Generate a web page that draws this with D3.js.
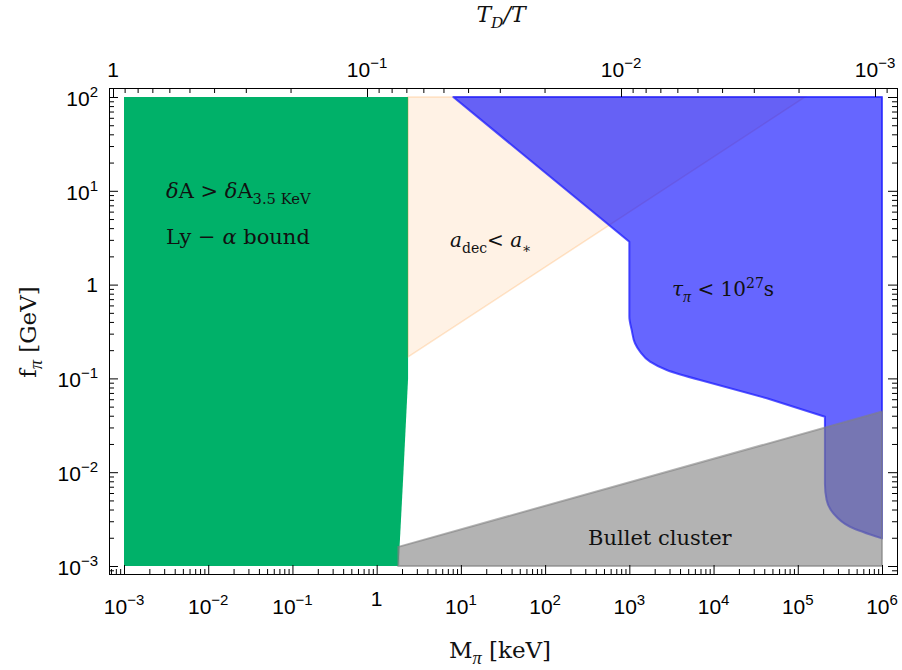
<!DOCTYPE html>
<html><head><meta charset="utf-8">
<script src="https://cdn.jsdelivr.net/npm/d3@7"></script>
<style>body{margin:0;background:#fff}</style>
</head><body>
<svg id="c" width="902" height="670"></svg>
<script>
// ---- data (M_pi in keV, f_pi in GeV) ----
const xTickExps = [-3,-2,-1,0,1,2,3,4,5,6];
const yTickExps = [-3,-2,-1,0,1,2];
const topTickExps = [0,-1,-2,-3];

const lyAlphaRegion = [[1e-3,100],[2.36,100],[2.36,0.1],[2.08,0.01],[1.82,1e-3],[1e-3,1e-3]];
const decayRegion = [[2.36,100],[1.22e5,100],[2.36,0.17]];
// lifetime bound boundary, split into pieces
const lifetimeTop = [[1e6,0.00197],[1e6,100],[8.13,100],[1.0e3,2.87]];
const lifetimeKnee = [[1.0e3,2.87],[1.0e3,0.455],[1.067e3,0.328],[1.167e3,0.237],[1.34e3,0.193],
  [1.76e3,0.151],[2.78e3,0.123],[6.9e3,0.0962]];
const lifetimeSlope = [[6.9e3,0.0962],[4.28e4,0.0614],[2.1e5,0.039]];
const lifetimeTail = [[2.1e5,0.039],[2.1e5,0.0076],[2.2e5,0.00506],[2.64e5,0.00365],
  [4.17e5,0.00262],[1e6,0.00197]];
const bulletRegion = [[1.81,0.0016],[1e6,0.0442],[1e6,1e-3],[1.81,1e-3]];

// ---- layout ----
const svg = d3.select('#c');
const frame = {l:109, r:897, t:88, b:574};
const x = d3.scaleLog().domain([1e-3,1e6]).range([124,882]);
const y = d3.scaleLog().domain([1e-3,1e2]).range([566,97]);
const xTop = d3.scaleLog().domain([1,1e-3]).range([113,875]);

const line = d3.line().x(d=>x(d[0])).y(d=>y(d[1]));
const smooth = d3.line().x(d=>x(d[0])).y(d=>y(d[1])).curve(d3.curveMonotoneY);
const SERIF = "'DejaVu Serif', serif";
const GREEK = "'Liberation Serif', serif";
const SANS = "'Liberation Sans Narrow', 'Liberation Sans', Arial, sans-serif";

function join(parts){ return parts.map((p,i)=> i===0 ? p : 'L'+p.slice(1)).join('') + 'Z'; }

// regions
svg.append('path').attr('d', line(lyAlphaRegion)+'Z').attr('fill','rgb(0,177,105)');
svg.append('path').attr('d', line(decayRegion)+'Z').attr('fill','rgb(255,128,0)').attr('fill-opacity',0.1)
  .attr('stroke','rgb(255,128,0)').attr('stroke-opacity',0.2).attr('stroke-width',1.5);
svg.append('path').attr('d', join([line(lifetimeTop), smooth(lifetimeKnee), line(lifetimeSlope), smooth(lifetimeTail)]))
  .attr('fill','rgb(0,0,255)').attr('fill-opacity',0.6)
  .attr('stroke','rgb(30,30,255)').attr('stroke-opacity',0.75).attr('stroke-width',2).attr('stroke-linejoin','round');
svg.append('path').attr('d', line(bulletRegion)+'Z').attr('fill','rgb(128,128,128)').attr('fill-opacity',0.6)
  .attr('stroke','rgb(128,128,128)').attr('stroke-opacity',0.6).attr('stroke-width',2);

// ticks
function genTicks(scale, lo, hi, emin, emax){
  const maj=[], min=[];
  for(let e=emin;e<=emax;e++) for(let m=1;m<=9;m++){
    const v=m*Math.pow(10,e), p=scale(v);
    if(p>=lo-0.01 && p<=hi+0.01) (m===1?maj:min).push(v);
  }
  return {maj,min};
}
const xt = genTicks(x, frame.l, frame.r, -5, 7);
const yt = genTicks(y, frame.t, frame.b, -5, 3);
const tt = genTicks(xTop, frame.l, frame.r, -5, 1);
function drawAxis(axisFn, scale, vals, len, tr){
  const g = svg.append('g').attr('transform',tr)
    .call(axisFn(scale).tickValues(vals).tickSize(-len).tickFormat(''));
  g.select('.domain').remove();
  g.selectAll('line').attr('stroke','#000').attr('stroke-width',1);
}
drawAxis(d3.axisBottom, x, xt.maj, 9, `translate(0,${frame.b})`);
drawAxis(d3.axisBottom, x, xt.min, 5, `translate(0,${frame.b})`);
drawAxis(d3.axisTop, xTop, tt.maj, 9, `translate(0,${frame.t})`);
drawAxis(d3.axisTop, xTop, tt.min, 5, `translate(0,${frame.t})`);
drawAxis(d3.axisLeft, y, yt.maj, 9, `translate(${frame.l},0)`);
drawAxis(d3.axisLeft, y, yt.min, 5, `translate(${frame.l},0)`);
drawAxis(d3.axisRight, y, yt.maj, 9, `translate(${frame.r},0)`);
drawAxis(d3.axisRight, y, yt.min, 5, `translate(${frame.r},0)`);

svg.append('rect').attr('x',frame.l+0.5).attr('y',frame.t+0.5)
  .attr('width',frame.r-frame.l).attr('height',frame.b-frame.t)
  .attr('fill','none').attr('stroke','#000').attr('stroke-width',1);

// tick labels
function powLabel(sel, e, supDy){
  if(e===0){ sel.append('tspan').text('1'); return; }
  sel.append('tspan').text('10');
  sel.append('tspan').attr('dy',supDy).attr('font-size',15).text(String(e).replace('-','\u2212'));
}
const fs = 21;
xTickExps.forEach(e=>{
  const t = svg.append('text').attr('x',x(Math.pow(10,e))).attr('y', e===0?606:614)
    .attr('text-anchor','middle').attr('font-family',SANS).attr('font-size',fs);
  powLabel(t,e,-9);
});
topTickExps.forEach(e=>{
  const t = svg.append('text').attr('x',xTop(Math.pow(10,e))).attr('y',77)
    .attr('text-anchor','middle').attr('font-family',SANS).attr('font-size',fs);
  powLabel(t,e,-9);
});
yTickExps.forEach(e=>{
  const py = y(Math.pow(10,e));
  const t = svg.append('text').attr('x',98).attr('y', e===0?py+7.5:py+9)
    .attr('text-anchor','end').attr('font-family',SANS).attr('font-size',fs);
  powLabel(t,e,-9);
});

// rich text helper
function rich(xp, yp, parts, size, extra){
  const t = svg.append('text').attr('x',xp).attr('y',yp).attr('font-family',SERIF)
    .attr('font-size',size).attr('fill','#111');
  if(extra) extra(t);
  let cur=0;
  parts.forEach(p=>{
    const target = p.sub? size*0.28 : p.sup? -size*0.4 : 0;
    const s = t.append('tspan').text(p.t);
    if(target!==cur) s.attr('dy', target-cur);
    cur = target;
    if(p.sub||p.sup) s.attr('font-size', size*(p.gr?0.8:0.7));
    if(p.it) s.attr('font-style','italic');
    if(p.gr) s.attr('font-family', GREEK);
  });
  return t;
}

// axis titles
rich(501, 22, [{t:'T',it:true},{t:'D',it:true,sub:true},{t:'/',it:true},{t:'T',it:true}], 22,
  t=>t.attr('text-anchor','middle'));
rich(500, 658, [{t:'M'},{t:'π',it:true,sub:true,gr:true},{t:' [keV]'}], 23, t=>t.attr('text-anchor','middle'));
rich(0, 0, [{t:'f'},{t:'π',it:true,sub:true,gr:true},{t:' [GeV]'}], 23,
  t=>t.attr('text-anchor','middle').attr('transform','translate(36,332) rotate(-90)'));

// region labels
rich(166, 198, [{t:'δ',it:true},{t:'A > '},{t:'δ',it:true},{t:'A'},{t:'3.5 KeV',sub:true}], 21);
rich(166, 244, [{t:'Ly − '},{t:'α',it:true},{t:' bound'}], 21);
rich(450, 247, [{t:'a',it:true},{t:'dec',sub:true},{t:'< '},{t:'a',it:true},{t:'∗',sub:true}], 20);
rich(672, 296, [{t:'τ',it:true},{t:'π',it:true,sub:true,gr:true},{t:' < 10'},{t:'27',sup:true},{t:'s'}], 20);
rich(588, 545, [{t:'Bullet cluster'}], 21);
</script>
</body></html>
